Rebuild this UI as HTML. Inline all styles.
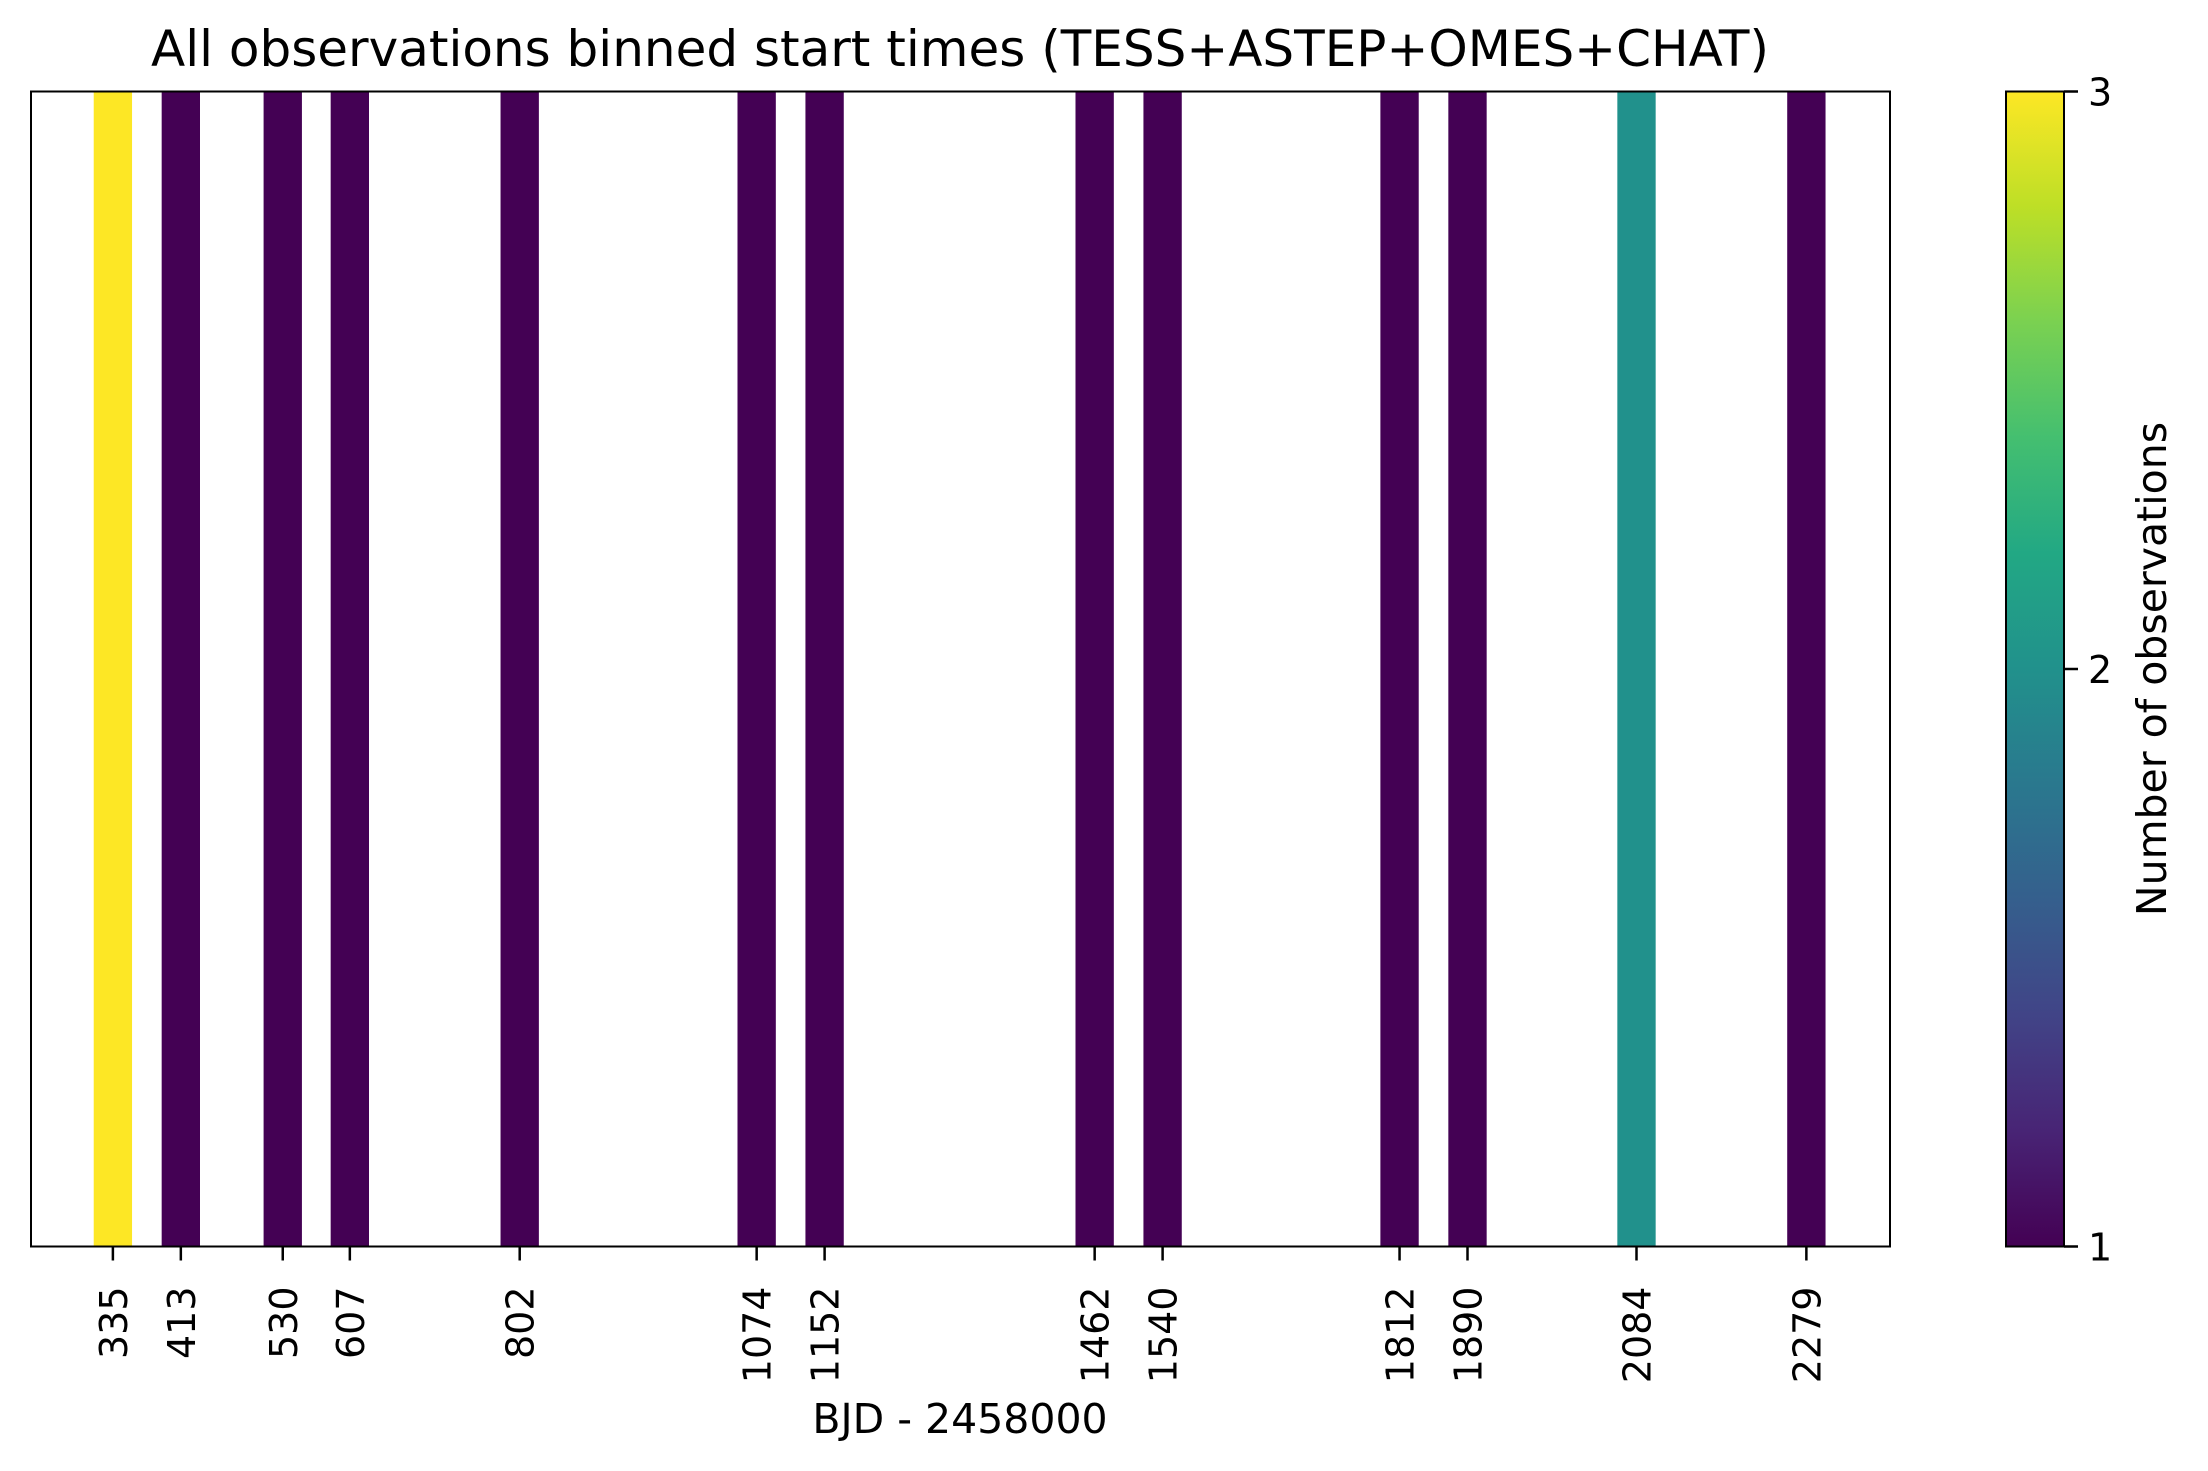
<!DOCTYPE html>
<html><head><meta charset="utf-8"><style>
html,body{margin:0;padding:0;background:#fff;}
svg{display:block;font-family:"DejaVu Sans","Liberation Sans",sans-serif;}
</style></head><body>
<svg id="chart" width="2208" height="1471" viewBox="0 0 2208 1471">
<defs>
<linearGradient id="viridis" x1="0" y1="1" x2="0" y2="0">
<stop offset="0" stop-color="#440154"/><stop offset="0.1" stop-color="#482475"/><stop offset="0.2" stop-color="#414487"/>
<stop offset="0.3" stop-color="#355f8d"/><stop offset="0.4" stop-color="#2a788e"/><stop offset="0.5" stop-color="#21918c"/>
<stop offset="0.6" stop-color="#22a884"/><stop offset="0.7" stop-color="#44bf70"/><stop offset="0.8" stop-color="#7ad151"/>
<stop offset="0.9" stop-color="#bddf26"/><stop offset="1" stop-color="#fde725"/>
</linearGradient>
</defs>
<text x="960" y="66" font-size="50" text-anchor="middle">All observations binned start times (TESS+ASTEP+OMES+CHAT)</text>
<g id="bars"></g>
<g id="xticks"></g>
<rect x="31" y="91.5" width="1859" height="1155" fill="none" stroke="#000" stroke-width="2"/>
<text x="960" y="1433" font-size="41" text-anchor="middle">BJD - 2458000</text>
<rect x="2006" y="91.5" width="58" height="1155" fill="url(#viridis)" stroke="#000" stroke-width="2"/>
<g id="cticks"></g>
<text transform="translate(2166,669) rotate(-90)" font-size="41" text-anchor="middle">Number of observations</text>
</svg>
<script>
const categories = [335, 413, 530, 607, 802, 1074, 1152, 1462, 1540, 1812, 1890, 2084, 2279];
const counts = [3, 1, 1, 1, 1, 1, 1, 1, 1, 1, 1, 2, 1];
const tickLabels = ["335","413","530","607","802","1074","1152","1462","1540","1812","1890","2084","2279"];
const cbarTicks = [1, 2, 3];

const NS = "http://www.w3.org/2000/svg";
const xMin = 241, xMax = 2375, plotL = 31, plotR = 1890, plotT = 91.5, plotB = 1246.5;
const xs = v => plotL + (v - xMin) / (xMax - xMin) * (plotR - plotL);
const cMin = 1, cMax = 3;
const cys = v => plotB - (v - cMin) / (cMax - cMin) * (plotB - plotT);
const barW = 44;
const cmap = v => v >= 3 ? "#fde725" : v >= 2 ? "#21918c" : "#440154";

const gb = document.getElementById("bars");
categories.forEach((c, i) => {
  const r = document.createElementNS(NS, "rect");
  r.setAttribute("x", xs(c - barW / 2));
  r.setAttribute("y", plotT);
  r.setAttribute("width", xs(c + barW / 2) - xs(c - barW / 2));
  r.setAttribute("height", plotB - plotT);
  r.setAttribute("fill", cmap(counts[i]));
  
  
  gb.appendChild(r);
});

const gx = document.getElementById("xticks");
categories.forEach((c, i) => {
  const l = document.createElementNS(NS, "line");
  l.setAttribute("x1", xs(c)); l.setAttribute("x2", xs(c));
  l.setAttribute("y1", plotB); l.setAttribute("y2", plotB + 14);
  l.setAttribute("stroke", "#000"); l.setAttribute("stroke-width", "2.5");
  
  
  gx.appendChild(l);
  const t = document.createElementNS(NS, "text");
  t.setAttribute("transform", "translate(" + (xs(c) + 14) + "," + (plotB + 40) + ") rotate(-90)");
  t.setAttribute("font-size", "38");
  t.setAttribute("text-anchor", "end");
  t.textContent = tickLabels[i];
  
  
  gx.appendChild(t);
});

const gc = document.getElementById("cticks");
cbarTicks.forEach(v => {
  const l = document.createElementNS(NS, "line");
  l.setAttribute("x1", 2064); l.setAttribute("x2", 2078);
  l.setAttribute("y1", cys(v)); l.setAttribute("y2", cys(v));
  l.setAttribute("stroke", "#000"); l.setAttribute("stroke-width", "2.5");
  
  
  gc.appendChild(l);
  const t = document.createElementNS(NS, "text");
  t.setAttribute("x", 2088); t.setAttribute("y", cys(v) + 14);
  t.setAttribute("font-size", "38");
  t.textContent = String(v);
  
  
  gc.appendChild(t);
});
</script>
</body></html>
